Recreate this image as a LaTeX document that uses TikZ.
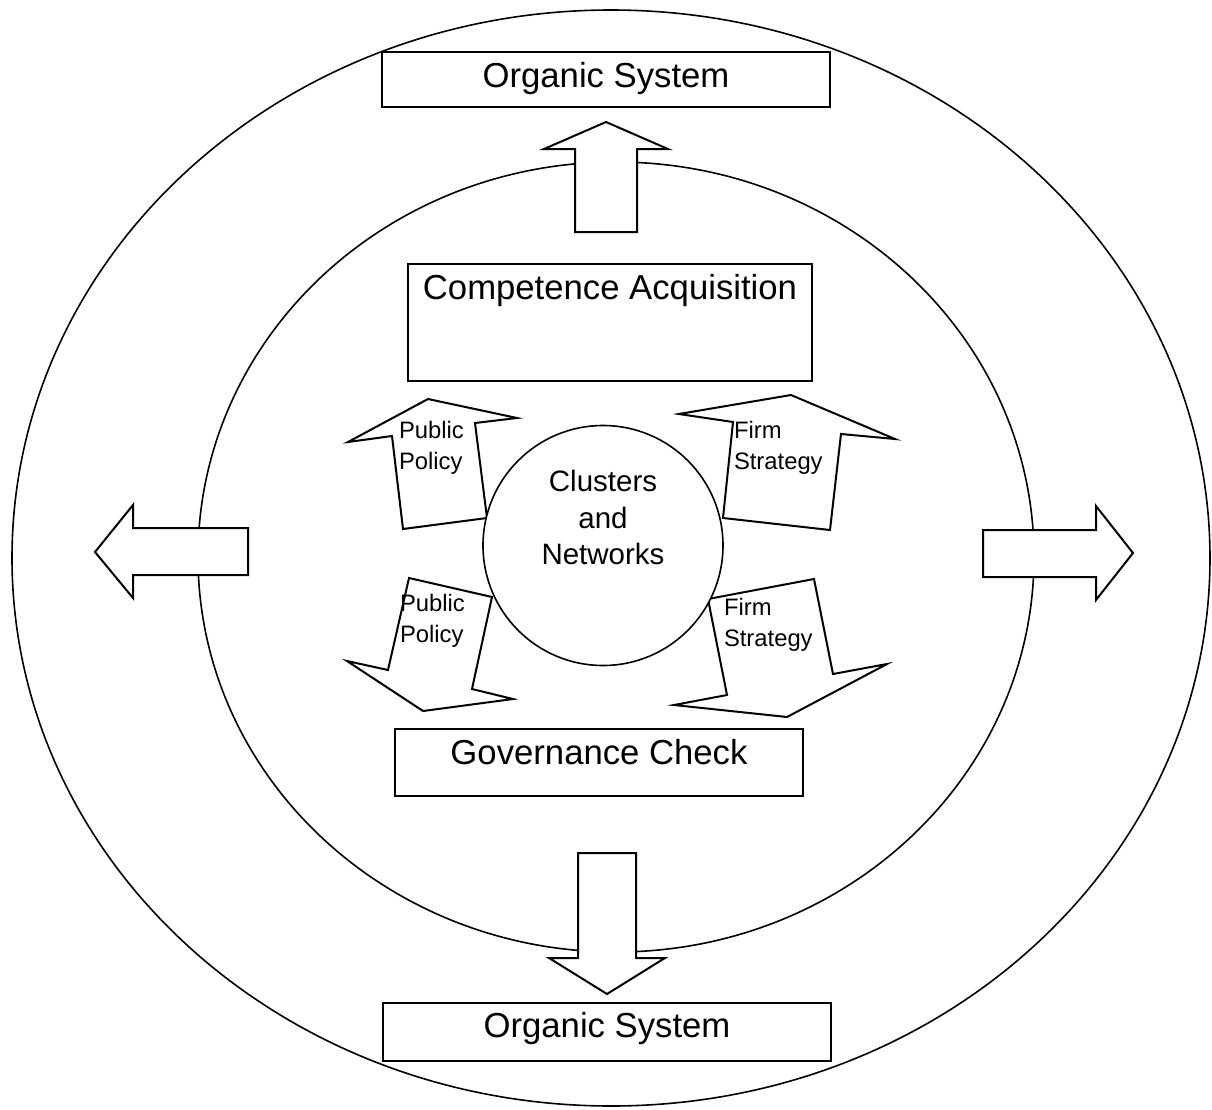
\documentclass[tikz,border=0pt]{standalone}
\usepackage{fontspec}
\setmainfont{Liberation Sans}
\usetikzlibrary{positioning}

\newcommand\boxfont{\fontsize{17.35}{20}\selectfont}
\newcommand\hubfont{\fontsize{14.75}{18.25}\selectfont}
\newcommand\tagfont{\fontsize{11.9}{15.5}\selectfont}

\tikzset{
  ring/.style={draw, line width=0.8pt},
  block/.style={draw, fill=white, line width=1pt, line join=miter},
  sysbox/.style={draw, fill=white, line width=1pt, inner sep=0pt},
  boxtext/.style={anchor=north, inner sep=0pt, font=\boxfont},
  tagtext/.style={anchor=north west, inner sep=0pt, align=left, font=\tagfont}
}

\begin{document}
\begin{tikzpicture}[x=0.5pt,
      y=-0.5pt,
      line width=1pt]

    \useasboundingbox (0,0) rectangle (1212,1110);

    % the two rings
    \draw[ring] (611,558) ellipse [x radius=599, y radius=548];
    \draw[ring] (616,557) ellipse [x radius=418, y radius=395];

    % straight block arrows
    \draw[block] (575,232) -- (575,149) -- (544,149) -- (606,122)
      -- (668,149) -- (637,149) -- (637,232) -- cycle;
    \draw[block] (578,853) -- (578,958) -- (549,958) -- (607,994)
      -- (665,958) -- (636,958) -- (636,853) -- cycle;
    \draw[block] (248,528) -- (133,528) -- (133,505) -- (95,552)
      -- (133,598) -- (133,575) -- (248,575) -- cycle;
    \draw[block] (983,530) -- (1096,530) -- (1096,506) -- (1133,553)
      -- (1096,600) -- (1096,577) -- (983,577) -- cycle;

    % boxes
    \node[sysbox, minimum width=224pt, minimum height=27.5pt]
      (OrganicTop) at (606,79.5) {};
    \node[sysbox, minimum width=202pt, minimum height=58.5pt]
      (Competence) at (610,322.5) {};
    \node[sysbox, minimum width=204pt, minimum height=33.5pt]
      (Governance) at (599,762.5) {};
    \node[sysbox, minimum width=224pt, minimum height=29pt]
      (OrganicBottom) at (607,1032) {};

    \node[boxtext] (OrganicTopText) at ([yshift=-5pt]OrganicTop.north) {Organic System};
    \node[boxtext] (CompetenceText) at ([yshift=-5pt]Competence.north) {Competence Acquisition};
    \node[boxtext] (GovernanceText) at ([yshift=-5pt]Governance.north) {Governance Check};
    \node[boxtext] (OrganicBottomText) at ([yshift=-4.5pt]OrganicBottom.north) {Organic System};

    % tilted block arrows round the hub
    \draw[block] (403,529) -- (392,436) -- (348,442) -- (428,399)
      -- (517,418) -- (475,423) -- (487,518) -- cycle;
    \draw[block] (723,518) -- (733,422) -- (679,414) -- (791,395)
      -- (895,439) -- (841,434) -- (830,530) -- cycle;
    \draw[block] (409,578) -- (492,597) -- (472,689) -- (513,699)
      -- (423,711) -- (347,661) -- (388,670) -- cycle;
    \draw[block] (708,599) -- (814,579) -- (833,674) -- (887,664)
      -- (787,717) -- (674,705) -- (727,695) -- cycle;

    \node[tagtext] (PolicyUp) at (398,420) {Public\\Policy};
    \node[tagtext] (StrategyUp) at (733,420) {Firm\\Strategy};
    \node[tagtext] (PolicyDown) at (399,593) {Public\\Policy};
    \node[tagtext] (StrategyDown) at (723,597) {Firm\\Strategy};

    % hub
    \node[circle, draw, fill=white, line width=0.8pt, minimum size=120pt, inner sep=0pt]
      (Hub) at (603,545.5) {};
    \node[align=center, inner sep=0pt, font=\hubfont]
      (HubText) at ([yshift=14pt]Hub.center) {Clusters\\and\\Networks};

  \end{tikzpicture}
\end{document}
